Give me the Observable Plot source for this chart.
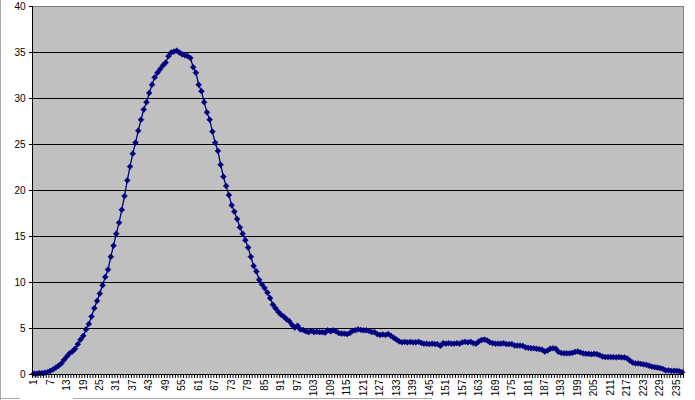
<!DOCTYPE html>
<html><head><meta charset="utf-8">
<script src="https://cdn.jsdelivr.net/npm/d3@7"></script>
<script src="https://cdn.jsdelivr.net/npm/@observablehq/plot@0.6"></script>
<style>
body{margin:0;background:#fff}
#chart{position:relative;width:695px;height:400px;overflow:hidden}
#chart svg{display:block}
.b{position:absolute;background:#a8a8a8}
</style>
</head><body><div id="chart"></div>
<script>
const values = [
  0.1, 0.1, 0.15, 0.15, 0.2, 0.25, 0.4, 0.55, 0.75, 0.95,
  1.2, 1.6, 1.95, 2.3, 2.5, 2.8, 3.3, 3.8, 4.2, 4.9,
  5.5, 6.3, 7.2, 8.0, 8.8, 9.7, 10.6, 11.4, 12.8, 14.0,
  15.3, 16.5, 17.9, 19.4, 21.1, 22.6, 24.0, 25.2, 26.5, 27.7,
  28.8, 29.6, 30.6, 31.5, 32.3, 32.8, 33.2, 33.6, 33.9, 34.6,
  35.0, 35.1, 35.2, 35.0, 34.8, 34.7, 34.6, 34.4, 33.4, 32.8,
  31.5, 30.8, 29.6, 28.5, 27.7, 26.4, 25.2, 24.3, 22.8, 21.5,
  20.5, 19.5, 18.4, 17.7, 16.9, 16.0, 15.3, 14.6, 13.8, 12.8,
  11.8, 11.2, 10.3, 9.8, 9.4, 8.9, 8.3, 7.6, 7.2, 6.8,
  6.5, 6.3, 6.0, 5.8, 5.4, 5.1, 5.3, 4.9, 4.85, 4.7,
  4.6, 4.75, 4.6, 4.65, 4.6, 4.6, 4.55, 4.8, 4.7, 4.8,
  4.7, 4.5, 4.45, 4.45, 4.4, 4.5, 4.75, 4.8, 4.9, 4.85,
  4.8, 4.8, 4.75, 4.6, 4.6, 4.4, 4.3, 4.35, 4.3, 4.4,
  4.2, 4.0, 3.8, 3.6, 3.5, 3.55, 3.5, 3.55, 3.5, 3.5,
  3.55, 3.45, 3.35, 3.35, 3.3, 3.35, 3.3, 3.3, 3.1, 3.4,
  3.35, 3.4, 3.35, 3.35, 3.4, 3.35, 3.5, 3.55, 3.5, 3.55,
  3.4, 3.35, 3.6, 3.75, 3.8, 3.7, 3.5, 3.4, 3.35, 3.35,
  3.35, 3.4, 3.3, 3.3, 3.3, 3.15, 3.15, 3.15, 3.1, 2.95,
  2.9, 2.85, 2.85, 2.8, 2.75, 2.7, 2.5, 2.6, 2.8, 2.85,
  2.8, 2.45, 2.35, 2.3, 2.3, 2.3, 2.35, 2.45, 2.5, 2.4,
  2.3, 2.25, 2.25, 2.2, 2.25, 2.2, 2.1, 1.95, 1.9, 1.9,
  1.9, 1.9, 1.85, 1.9, 1.85, 1.85, 1.75, 1.5, 1.3, 1.2,
  1.2, 1.15, 1.1, 1.05, 0.95, 0.85, 0.8, 0.75, 0.7, 0.6,
  0.45, 0.45, 0.4, 0.4, 0.4, 0.35, 0.25
];
const categories = values.map((_, i) => i + 1);
const xTickLabels = d3.range(1, categories.length + 1, 6);
const yTicks = [0, 5, 10, 15, 20, 25, 30, 35, 40];

const n = categories.length;
const data = categories.map((c, i) => ({c, v: values[i]}));
const boundaries = d3.range(0, n + 1).map(d => d + 0.5);

const plot = Plot.plot({
  width: 695, height: 400,
  marginLeft: 32, marginRight: 12, marginTop: 6, marginBottom: 26,
  style: {fontFamily: "'Liberation Sans', Arial, sans-serif", fontSize: "10px", background: "transparent", color: "#000"},
  x: {type: "linear", domain: [0.5, n + 0.5], label: null},
  y: {domain: [0, 40], label: null},
  marks: [
    Plot.frame({fill: "#c0c0c0", stroke: null}),
    Plot.ruleY(yTicks.filter(d => d > 0 && d < 40), {stroke: "#000", strokeWidth: 1}),
    Plot.ruleY([40], {stroke: "#808080"}),
    Plot.ruleX([n + 0.5], {stroke: "#808080"}),
    Plot.line(data, {x: "c", y: "v", stroke: "#000080", strokeWidth: 1.3}),
    Plot.dot(data, {x: "c", y: "v", symbol: "diamond2", r: 2.6, fill: "#000080", stroke: "#000080", strokeWidth: 0.6}),
    Plot.ruleX([0.5], {stroke: "#000"}),
    Plot.ruleY([0], {stroke: "#000"}),
    Plot.axisY(yTicks, {tickSize: 3, tickPadding: 4, tickFormat: d => String(d), stroke: "#000", fill: "#000", label: null}),
    Plot.axisX(boundaries, {tickSize: 4, tickPadding: 0, tickFormat: () => "", stroke: "#000", label: null}),
    Plot.text(xTickLabels, {x: d => d, frameAnchor: "bottom", dy: 5, rotate: -90, textAnchor: "end", lineAnchor: "middle", fill: "#000", fontSize: 10})
  ]
});
const host = document.getElementById("chart");
host.appendChild(plot);
const addLine = (l, t, w, h) => { const d = document.createElement("div"); d.className = "b"; Object.assign(d.style, {left: l + "px", top: t + "px", width: w + "px", height: h + "px"}); host.appendChild(d); };
addLine(0, 0, 1, 400);
addLine(0, 398, 20, 1);
addLine(73, 398, 359, 1);
</script>
</body></html>
